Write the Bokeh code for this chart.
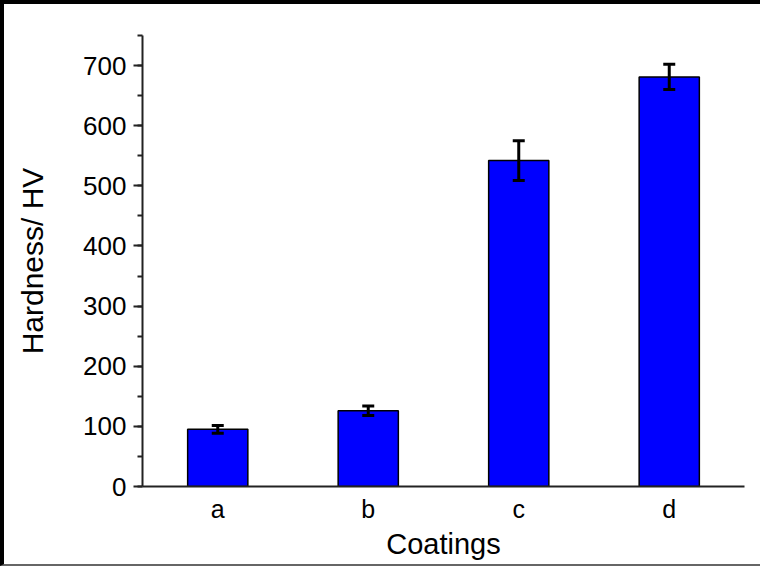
from bokeh.plotting import figure
from bokeh.models import ColumnDataSource, Whisker, TeeHead, SingleIntervalTicker, Range1d, FactorRange
from bokeh.embed import file_html
from bokeh.resources import INLINE

coatings = ["a", "b", "c", "d"]
hardness = [95, 126, 542, 681]
hardness_err = [6.5, 8, 33, 21]

lower = [h - e for h, e in zip(hardness, hardness_err)]
upper = [h + e for h, e in zip(hardness, hardness_err)]
src = ColumnDataSource(dict(x=coatings, top=hardness, lower=lower, upper=upper))

FONT = "Liberation Sans"

p = figure(x_range=FactorRange(factors=coatings, range_padding=0),
           y_range=Range1d(0, 750),
           width=760, height=566, output_backend="svg", toolbar_location=None,
           min_border_left=138, min_border_right=20, min_border_top=31, min_border_bottom=84)
p.styles = {"border-top": "4px solid #000", "border-left": "4px solid #000",
            "border-bottom": "2px solid #666", "box-sizing": "border-box"}
p.outline_line_color = None
p.xgrid.visible = False
p.ygrid.visible = False

p.vbar(x="x", top="top", width=0.4, source=src, fill_color="#0000FF",
       line_color="black", line_width=1.5)

w = Whisker(source=src, base="x", lower="lower", upper="upper",
            line_color="black", line_width=3, level="overlay",
            upper_head=TeeHead(size=12, line_width=3, line_color="black"),
            lower_head=TeeHead(size=12, line_width=3, line_color="black"))
p.add_layout(w)

yax = p.yaxis[0]
yax.ticker = SingleIntervalTicker(interval=100, num_minor_ticks=2)
yax.axis_label = "Hardness/ HV"
yax.axis_label_text_font = FONT
yax.axis_label_text_font_size = "30px"
yax.axis_label_text_font_style = "normal"
yax.axis_label_text_color = "#000"
yax.axis_label_standoff = 31
yax.major_label_text_font = FONT
yax.major_label_text_font_size = "26px"
yax.major_label_text_color = "#000"
yax.major_label_standoff = 7
yax.axis_line_width = 2
yax.axis_line_color = "#222"
yax.major_tick_line_width = 2
yax.major_tick_line_color = "#222"
yax.minor_tick_line_width = 2
yax.minor_tick_line_color = "#222"
yax.major_tick_out = 9
yax.major_tick_in = 0
yax.minor_tick_out = 5
yax.minor_tick_in = 0

xax = p.xaxis[0]
xax.axis_label = "Coatings"
xax.axis_label_text_font = FONT
xax.axis_label_text_font_size = "29px"
xax.axis_label_text_font_style = "normal"
xax.axis_label_text_color = "#000"
xax.axis_label_standoff = 2
xax.major_label_text_font = FONT
xax.major_label_text_font_size = "25px"
xax.major_label_text_color = "#000"
xax.major_label_standoff = 2
xax.axis_line_width = 2
xax.axis_line_color = "#222"
xax.major_tick_line_color = None
xax.minor_tick_line_color = None

open("out.html", "w").write(file_html(p, INLINE))
